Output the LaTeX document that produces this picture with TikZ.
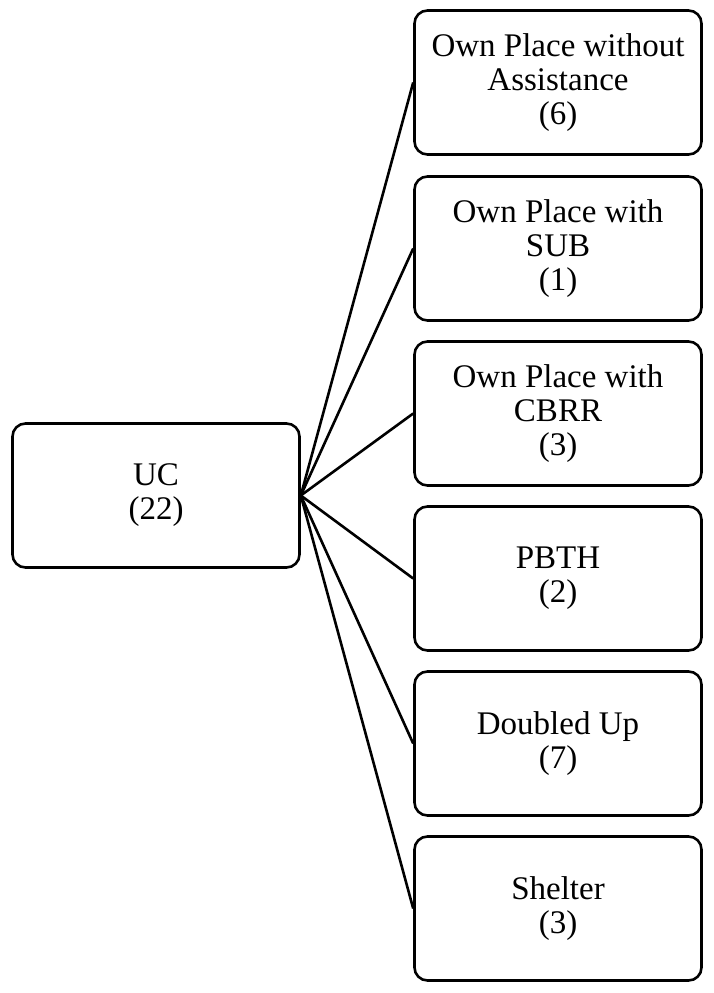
\documentclass[tikz,border=0pt]{standalone}
\usepackage{fontspec}
\setmainfont{Liberation Serif}
\begin{document}
\begin{tikzpicture}[x=1pt,y=-1pt,
  box/.style={draw, line width=2.6pt, rounded corners=13pt, minimum width=287pt, minimum height=144pt, align=center, inner sep=0pt, font=\fontsize{33}{34}\selectfont},
  conn/.style={line width=2.6pt}]
\useasboundingbox (0,0) rectangle (714,993);
\node[box] (uc) at (156,495.5) {UC\\(22)};
\node[box] (b1) at (558,82.5) {Own Place without\\Assistance\\(6)};
\node[box] (b2) at (558,248.5) {Own Place with\\SUB\\(1)};
\node[box] (b3) at (558,413.5) {Own Place with\\CBRR\\(3)};
\node[box] (b4) at (558,578.5) {PBTH\\(2)};
\node[box] (b5) at (558,743.5) {Doubled Up\\(7)};
\node[box] (b6) at (558,908.5) {Shelter\\(3)};
\foreach \b in {b1,b2,b3,b4,b5,b6}
  \draw[conn] (uc.east) -- (\b.west);
\end{tikzpicture}
\end{document}
